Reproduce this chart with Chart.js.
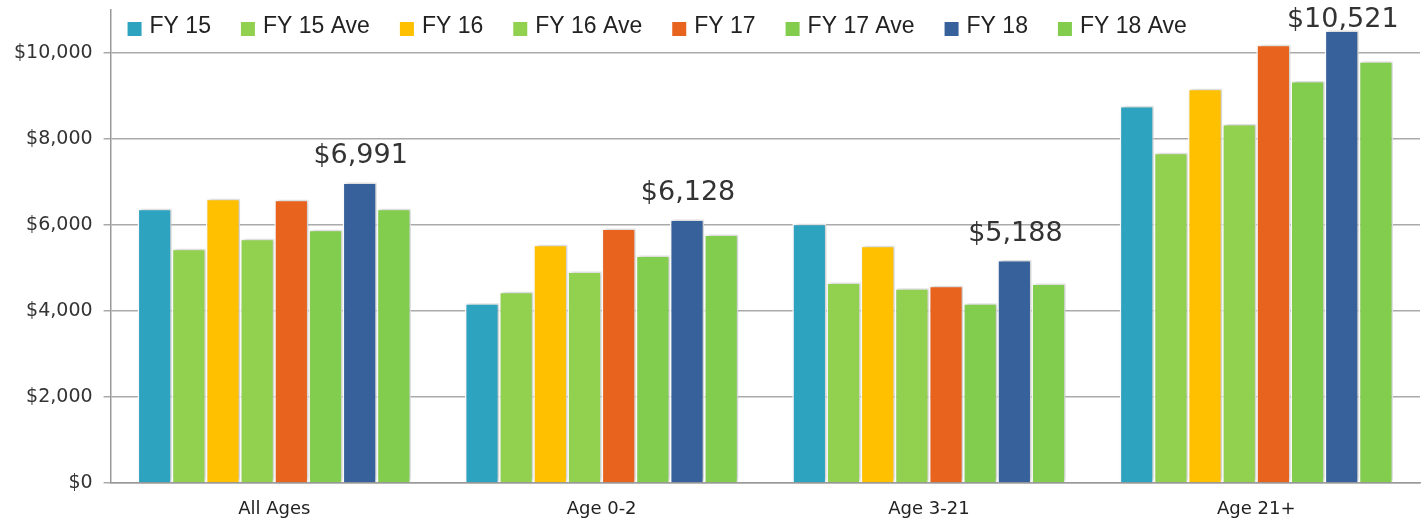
<!DOCTYPE html>
<html>
<head>
<meta charset="utf-8">
<script src="https://cdn.jsdelivr.net/npm/chart.js@4"></script>
<style>
  html, body { margin: 0; padding: 0; background: #fff; }
  #wrap { width: 1426px; height: 524px; }
</style>
</head>
<body>
<div id="wrap"><canvas id="chart"></canvas></div>
<script>
const categories = ['All Ages', 'Age 0-2', 'Age 3-21', 'Age 21+'];
const seriesNames = ['FY 15', 'FY 15 Ave', 'FY 16', 'FY 16 Ave', 'FY 17', 'FY 17 Ave', 'FY 18', 'FY 18 Ave'];
const fy15    = [6380, 4180, 6030, 8770];
const fy15Ave = [5450, 4450, 4660, 7680];
const fy16    = [6610, 5540, 5520, 9170];
const fy16Ave = [5680, 4920, 4530, 8350];
const fy17    = [6590, 5920, 4590, 10190];
const fy17Ave = [5890, 5290, 4180, 9350];
const fy18    = [6991, 6128, 5188, 10521];
const fy18Ave = [6380, 5780, 4640, 9810];
const yTicks = [0, 2000, 4000, 6000, 8000, 10000];

const colors = ['#2ea3c0', '#92d050', '#ffc000', '#92d050', '#e8641e', '#82cc4e', '#37619b', '#82cc4e'];
const values = [fy15, fy15Ave, fy16, fy16Ave, fy17, fy17Ave, fy18, fy18Ave];

const money = v => '$' + v.toLocaleString('en-US');

// soft shadow behind the bars
const barShadow = {
  id: 'barShadow',
  beforeDatasetsDraw(chart) {
    const c = chart.ctx;
    c.save();
    c.shadowColor = 'rgba(0,0,0,0.22)';
    c.shadowBlur = 4;
    c.shadowOffsetX = 2;
    c.shadowOffsetY = -1;
  },
  afterDatasetsDraw(chart) {
    chart.ctx.restore();
  }
};

// value labels on the FY 18 bars only
const fy18Labels = {
  id: 'fy18Labels',
  afterDatasetsDraw(chart) {
    const c = chart.ctx;
    const meta = chart.getDatasetMeta(6);
    c.save();
    c.font = '27px "DejaVu Sans"';
    c.fillStyle = '#333';
    c.textAlign = 'center';
    c.textBaseline = 'alphabetic';
    meta.data.forEach((bar, i) => {
      const y = Math.max(bar.y - 19, 27);
      c.fillText(money(fy18[i]), bar.x + 1, y);
    });
    c.restore();
  }
};

// legend drawn over the top of the plot
const topLegend = {
  id: 'topLegend',
  afterDraw(chart) {
    const c = chart.ctx;
    let x = chart.chartArea.left + 17;
    c.save();
    c.font = '23px "Liberation Sans"';
    c.textBaseline = 'alphabetic';
    chart.data.datasets.forEach(ds => {
      c.fillStyle = ds.backgroundColor;
      c.fillRect(x, 22, 14, 14);
      c.fillStyle = '#222';
      c.fillText(ds.label, x + 22, 33);
      x += 22 + c.measureText(ds.label).width + 30;
    });
    c.restore();
  }
};

new Chart(document.getElementById('chart'), {
  type: 'bar',
  data: {
    labels: categories,
    datasets: seriesNames.map((name, i) => ({
      label: name,
      data: values[i],
      backgroundColor: colors[i],
      borderColor: '#ffffff',
      borderWidth: 1.5,
      categoryPercentage: 0.835,
      barPercentage: 1.0
    }))
  },
  options: {
    responsive: true,
    maintainAspectRatio: false,
    animation: false,
    layout: { padding: { top: 10, right: 6, left: 3, bottom: 0 } },
    plugins: {
      legend: { display: false },
      tooltip: { enabled: false }
    },
    scales: {
      x: {
        grid: { display: false, drawTicks: false },
        border: { color: '#999', width: 1.5 },
        ticks: { color: '#222', font: { family: 'DejaVu Sans', size: 18 }, padding: 16 },
        afterFit(scale) {
          scale.height = 41;
          scale.paddingBottom = 0;
        }
      },
      y: {
        min: 0,
        max: 11000,
        afterBuildTicks(scale) {
          scale.ticks = yTicks.map(v => ({ value: v }));
        },
        afterFit(scale) {
          scale.paddingTop = 0;
          scale.paddingBottom = 0;
        },
        grid: { color: '#aaa', lineWidth: 1.5, tickLength: 7, drawTicks: true },
        border: { color: '#999', width: 1.5 },
        ticks: {
          color: '#333',
          font: { family: 'DejaVu Sans', size: 19 },
          padding: 11,
          callback: v => money(v)
        }
      }
    }
  },
  plugins: [barShadow, fy18Labels, topLegend]
});
</script>
</body>
</html>
